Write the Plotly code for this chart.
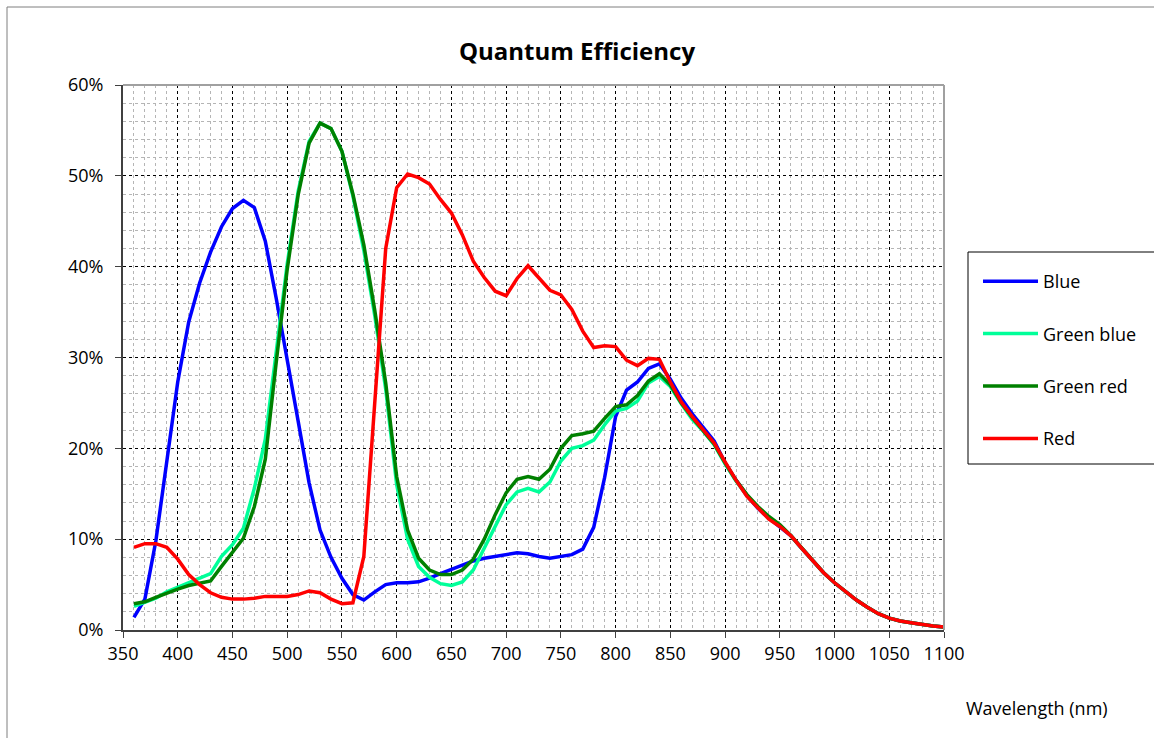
import plotly.graph_objects as go

wavelength = list(range(360, 1101, 10))

blue = [1.4, 3.4, 9.8, 18.7, 27.3, 33.9, 38.2, 41.6, 44.4, 46.4,
        47.3, 46.5, 42.8, 36.5, 30.0, 23.0, 16.2, 11.0, 8.0, 5.7,
        3.9, 3.3, 4.2, 5.0, 5.2, 5.2, 5.3, 5.7, 6.2, 6.7,
        7.2, 7.6, 7.9, 8.1, 8.3, 8.5, 8.4, 8.1, 7.9, 8.1,
        8.3, 8.9, 11.3, 16.8, 23.5, 26.4, 27.3, 28.8, 29.3, 27.6,
        25.5, 23.8, 22.3, 20.8, 18.4, 16.5, 14.8, 13.4, 12.3, 11.4,
        10.4, 9.0, 7.6, 6.3, 5.2, 4.2, 3.3, 2.5, 1.8, 1.3,
        1.0, 0.8, 0.6, 0.45, 0.32]

green_blue = [2.6, 3.0, 3.5, 4.2, 4.7, 5.1, 5.7, 6.2, 8.1, 9.4,
              11.2, 15.6, 21.0, 31.0, 40.3, 48.3, 53.8, 55.8, 55.2, 52.7,
              47.8, 41.8, 34.6, 26.5, 16.0, 10.0, 7.0, 5.8, 5.1, 4.9,
              5.3, 6.6, 9.0, 11.4, 13.8, 15.2, 15.6, 15.2, 16.3, 18.6,
              20.0, 20.3, 20.9, 22.6, 24.1, 24.4, 25.2, 27.2, 27.9, 26.8,
              24.9, 23.2, 21.9, 20.4, 18.3, 16.4, 14.8, 13.5, 12.4, 11.5,
              10.4, 9.0, 7.6, 6.3, 5.2, 4.2, 3.3, 2.5, 1.8, 1.3,
              1.0, 0.8, 0.6, 0.45, 0.32]

green_red = [2.9, 3.1, 3.6, 4.1, 4.5, 4.9, 5.2, 5.4, 7.0, 8.5,
             10.1, 13.6, 18.8, 29.5, 39.7, 47.9, 53.6, 55.8, 55.2, 52.7,
             48.0, 42.4, 35.2, 27.2, 16.9, 11.0, 7.9, 6.6, 6.1, 6.1,
             6.6, 7.8, 10.0, 12.7, 15.1, 16.6, 16.9, 16.6, 17.7, 20.0,
             21.4, 21.6, 21.9, 23.3, 24.6, 24.8, 25.8, 27.4, 28.2, 27.0,
             25.0, 23.4, 22.0, 20.5, 18.4, 16.5, 14.9, 13.6, 12.5, 11.6,
             10.4, 9.0, 7.6, 6.3, 5.2, 4.2, 3.3, 2.5, 1.8, 1.3,
             1.0, 0.8, 0.6, 0.45, 0.32]

red = [9.1, 9.5, 9.5, 9.1, 7.8, 6.1, 5.0, 4.1, 3.6, 3.4,
       3.4, 3.5, 3.7, 3.7, 3.7, 3.9, 4.3, 4.1, 3.4, 2.9,
       3.0, 8.1, 25.0, 42.0, 48.7, 50.2, 49.8, 49.1, 47.4, 45.9,
       43.5, 40.6, 38.8, 37.3, 36.8, 38.7, 40.1, 38.8, 37.4, 36.9,
       35.3, 32.9, 31.1, 31.3, 31.2, 29.7, 29.1, 29.9, 29.8, 27.3,
       25.1, 23.5, 22.0, 20.6, 18.5, 16.5, 14.7, 13.4, 12.2, 11.4,
       10.4, 9.0, 7.6, 6.3, 5.2, 4.2, 3.3, 2.5, 1.8, 1.3,
       1.0, 0.8, 0.6, 0.45, 0.32]

series_names = ["Blue", "Green blue", "Green red", "Red"]
series_colors = ["#0000FF", "#00FF99", "#008000", "#FF0000"]
series_values = [blue, green_blue, green_red, red]

x_ticks = list(range(350, 1101, 50))
y_ticks = list(range(0, 61, 10))

FONT = "Open Sans"

fig = go.Figure()
for name, color, vals in zip(series_names, series_colors, series_values):
    fig.add_trace(go.Scatter(
        x=wavelength, y=vals, mode="lines", name=name,
        legendgroup=name,
        line=dict(color=color, width=3.5),
    ))

# plot area in pixels: left 123, right 944, top 85, bottom 630
L, R, T, B = 123, 944, 85, 630
W, H = 1154, 738
pw, ph = R - L, B - T


def px(xp):
    return (xp - L) / pw


def py(yp):
    return (B - yp) / ph


shapes = [
    # outer chart border
    dict(type="rect", xref="paper", yref="paper",
         x0=px(7), x1=px(1170), y0=py(760), y1=py(7),
         line=dict(color="#7f7f7f", width=1), layer="below"),
    # top and right plot border (grey)
    dict(type="line", xref="paper", yref="paper", x0=0, x1=1, y0=1, y1=1,
         line=dict(color="#a0a0a0", width=2)),
    dict(type="line", xref="paper", yref="paper", x0=1, x1=1, y0=0, y1=1,
         line=dict(color="#a0a0a0", width=2)),
    # legend box
    dict(type="rect", xref="paper", yref="paper",
         x0=px(968), x1=px(1170), y0=py(464), y1=py(252),
         line=dict(color="#000000", width=1)),
]

fig.update_layout(
    width=W, height=H,
    margin=dict(l=L, r=W - R, t=T, b=H - B),
    paper_bgcolor="white", plot_bgcolor="white",
    font=dict(family=FONT, size=18, color="#000000"),
    title=dict(text="<b>Quantum Efficiency</b>", x=577 / W, xref="container",
               xanchor="center", y=1 - 52 / H, yref="container", yanchor="middle",
               font=dict(family=FONT, size=24, color="#000000")),
    showlegend=True,
    legend=dict(x=px(978), xanchor="left", y=py(263), yanchor="top",
                bgcolor="rgba(0,0,0,0)", borderwidth=0,
                traceorder="grouped", tracegroupgap=26, itemwidth=55,
                font=dict(family=FONT, size=18)),
    shapes=shapes,
    annotations=[dict(text="Wavelength (nm)", xref="paper", yref="paper",
                      x=px(1037), y=py(708), xanchor="center", yanchor="middle",
                      showarrow=False, font=dict(family=FONT, size=18))],
)

fig.update_xaxes(
    range=[350, 1100], tickmode="array", tickvals=x_ticks,
    ticktext=[str(v) for v in x_ticks],
    showline=True, linecolor="#404040", linewidth=2,
    ticks="outside", ticklen=6, tickcolor="#404040", tickwidth=1,
    showgrid=True, gridcolor="#000000", gridwidth=1, griddash="dot",
    minor=dict(dtick=10, tick0=350, showgrid=True, gridcolor="#b5b5b5",
               gridwidth=1, griddash="dot", ticks=""),
    zeroline=False,
)
fig.update_yaxes(
    range=[0, 60], tickmode="array", tickvals=y_ticks,
    ticktext=[f"{v}%" for v in y_ticks],
    showline=True, linecolor="#404040", linewidth=2,
    ticks="outside", ticklen=6, tickcolor="#404040", tickwidth=1,
    showgrid=True, gridcolor="#000000", gridwidth=1, griddash="dot",
    minor=dict(dtick=2, tick0=0, showgrid=True, gridcolor="#b5b5b5",
               gridwidth=1, griddash="dot", ticks=""),
    zeroline=False, ticklabelstandoff=8,
)

fig.write_html("out.html", config={"displayModeBar": False},
               post_script="document.body.style.margin='0';document.body.style.overflow='hidden';")
